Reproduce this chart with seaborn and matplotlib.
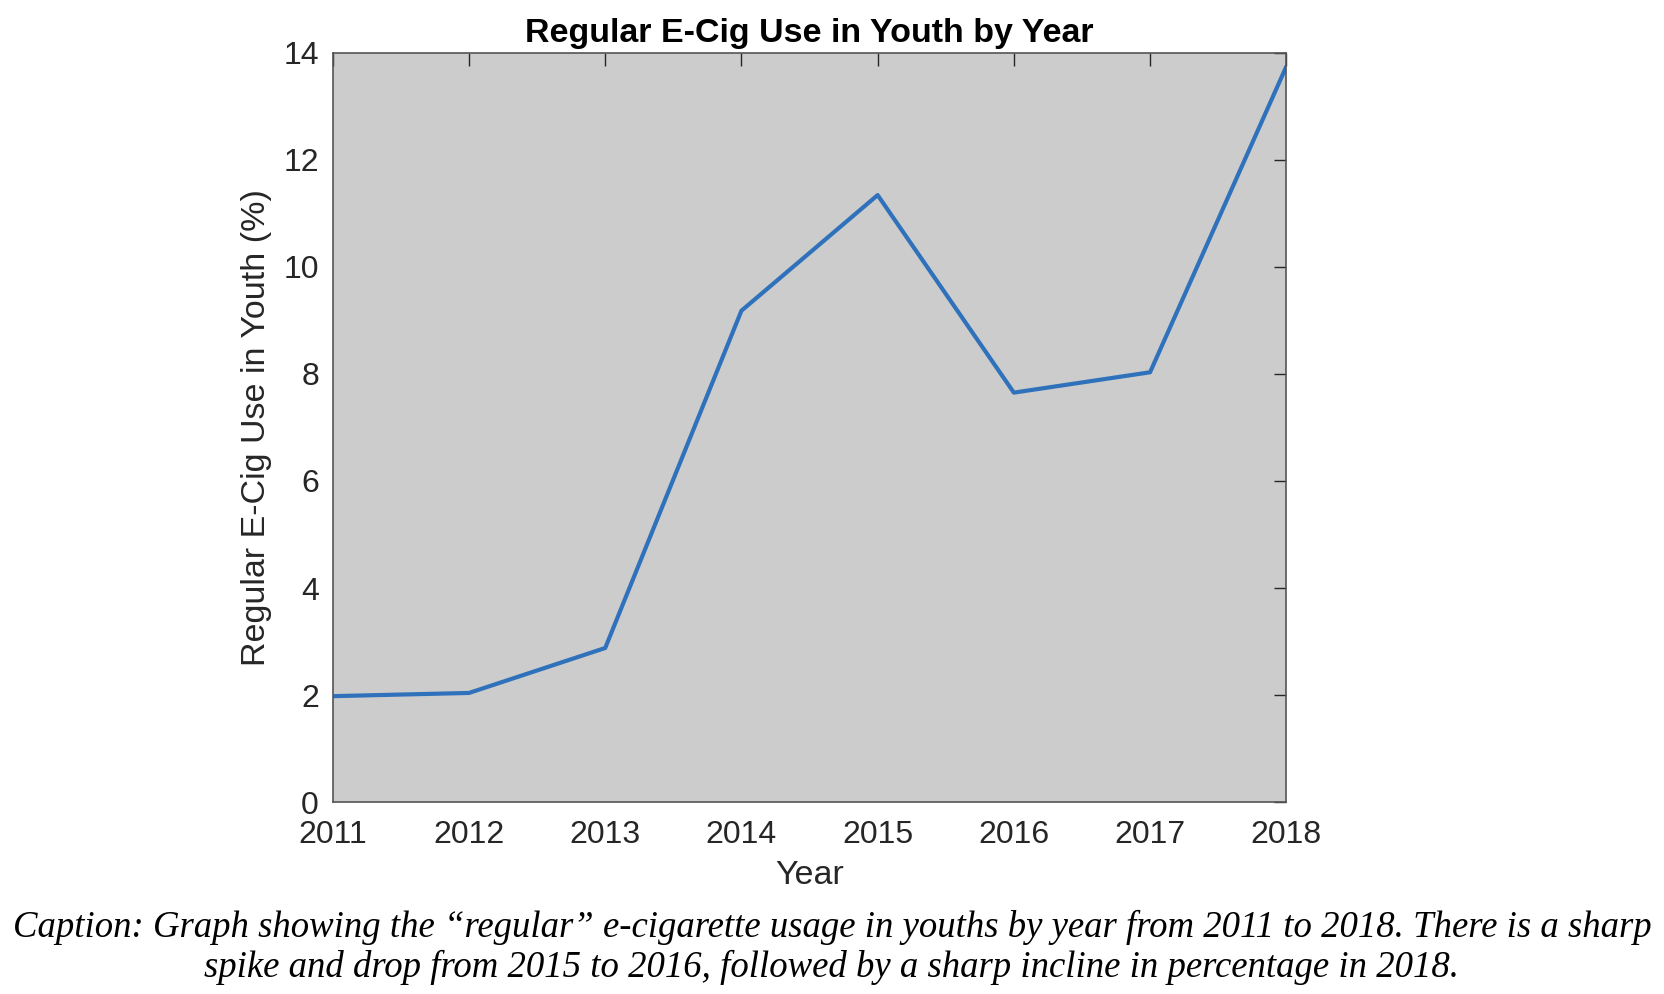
import matplotlib
matplotlib.use('Agg')
import matplotlib.pyplot as plt
import seaborn as sns
import pandas as pd

# Values
years = [2011, 2012, 2013, 2014, 2015, 2016, 2017, 2018]
use_pct = [1.98, 2.04, 2.88, 9.18, 11.34, 7.65, 8.03, 13.74]
y_ticks = [0, 2, 4, 6, 8, 10, 12, 14]

caption = ("Caption: Graph showing the \u201cregular\u201d e-cigarette usage in youths by year from 2011 to 2018. "
           "There is a sharp\nspike and drop from 2015 to 2016, followed by a sharp incline in percentage in 2018.")

df = pd.DataFrame({'Year': years, 'Use': use_pct})

sns.set_style('white')
plt.rcParams['font.family'] = ['Liberation Sans', 'DejaVu Sans']

fig = plt.figure(figsize=(16.64, 9.94), dpi=100)
ax = fig.add_axes([0.200, 0.193, 0.573, 0.754])
ax.set_facecolor('#cccccc')

sns.lineplot(data=df, x='Year', y='Use', ax=ax, color='#2f72bb', linewidth=3.0)

ax.set_xlim(2011, 2018)
ax.set_ylim(0, 14)
ax.set_xticks(years)
ax.set_yticks(y_ticks)
ax.tick_params(direction='in', length=9, width=1, colors='#262626', labelsize=23,
               top=True, right=True)
ax.tick_params(axis='x', pad=13)
ax.tick_params(axis='y', pad=10)
for s in ax.spines.values():
    s.set_color('#555555')
    s.set_linewidth(1.2)

ax.set_title('Regular E-Cig Use in Youth by Year', fontsize=24.5, fontweight='bold',
             color='black', pad=8)
ax.set_xlabel('Year', fontsize=24.5, color='#262626', labelpad=7)
ax.set_ylabel('Regular E-Cig Use in Youth (%)', fontsize=24.5, color='#262626', labelpad=8)

# caption under the chart
fig.text(0.5, 0.047, caption, ha='center', va='center', fontsize=26.5, style='italic',
         family='Liberation Serif', color='black', linespacing=1.2)

fig.savefig('out.png', dpi=100)
